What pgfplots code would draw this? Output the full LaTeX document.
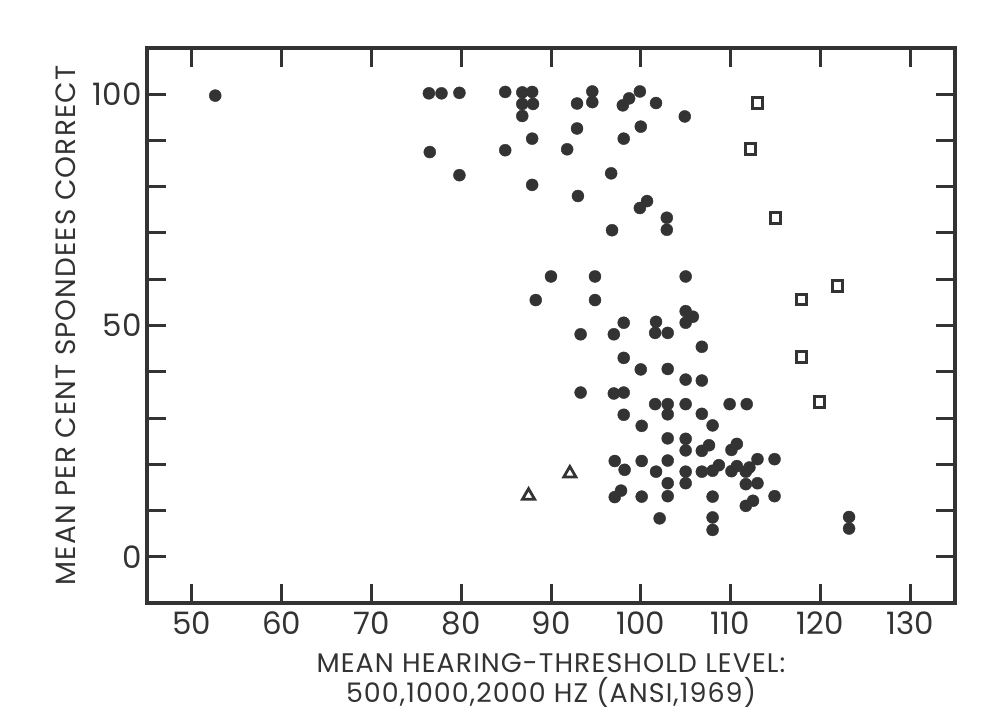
\documentclass[border=0pt]{standalone}
\usepackage{pgfplots}
\pgfplotsset{compat=1.18}
\usepackage{fontspec}
\setmainfont{Poppins}
\definecolor{ink}{gray}{0.2}
\begin{document}
\begin{tikzpicture}
\useasboundingbox (-147bp,-114bp) rectangle (836bp,603bp);
\begin{axis}[
 at={(0,0)}, anchor=south west,
 scale only axis, width=808bp, height=555bp,
 xmin=45, xmax=135, ymin=-10, ymax=110,
 xtick={50,60,...,130}, ytick={0,10,...,100},
 yticklabels={0,,,,,50,,,,,100},
 tick pos=both, tick align=inside, major tick length=19bp,
 every tick/.style={ink, line width=3bp},
 axis line style={ink, line width=3.5bp},
 /pgf/number format/assume math mode=true,
 /pgf/number format/1000 sep={},
 ticklabel style={font=\fontsize{31}{33}\selectfont, text=ink},
 xticklabel style={yshift=-5bp},
 yticklabel style={xshift=-2bp},
 xlabel={MEAN HEARING-THRESHOLD LEVEL:\\500,1000,2000 HZ (ANSI,1969)},
 xlabel style={align=center, font=\fontsize{27}{30}\selectfont\addfontfeature{LetterSpace=4}, text=ink, yshift=-12bp},
 ylabel={MEAN PER CENT SPONDEES CORRECT},
 ylabel style={font=\fontsize{28}{30}\selectfont\addfontfeature{LetterSpace=4}, text=ink, yshift=10bp},
 clip=false,
]
\addplot[only marks, mark=*, mark size=6bp, mark options={fill=ink, draw=ink}] coordinates {
(52.6,99.7) (76.4,100.2) (77.8,100.2) (79.8,100.3) (84.9,100.5) (86.8,100.4) (87.9,100.5)
(86.8,97.9) (88.0,97.9) (86.8,95.3) (94.6,100.6) (94.6,98.3) (92.9,98.0) (92.9,92.6)
(87.9,90.4) (76.5,87.5) (84.9,87.9) (91.8,88.1) (79.8,82.5) (87.9,80.4) (93.0,78.0)
(99.9,100.6) (98.7,99.1) (98.0,97.6) (101.7,98.1) (104.9,95.2) (100.0,93.0) (98.1,90.4)
(96.7,82.9) (100.7,76.9) (99.9,75.4) (102.9,73.3) (96.8,70.6) (102.9,70.7)
(90.0,60.6) (94.9,60.6) (105.0,60.6) (88.3,55.5) (94.9,55.5) (98.1,50.6) (101.7,50.8)
(105.0,53.1) (105.8,51.9) (105.0,50.6) (93.3,48.1) (97.0,48.1) (101.6,48.4) (103.0,48.4)
(106.8,45.4) (98.1,43.0) (100.0,40.5) (103.0,40.6) (105.0,38.3) (106.8,38.1)
(93.3,35.5) (97.0,35.3) (98.1,35.5) (101.6,33.0) (103.0,33.0) (105.0,33.0) (109.9,33.0) (111.8,33.0)
(98.1,30.7) (103.0,30.8) (106.8,30.9) (100.1,28.3) (108.0,28.4) (103.0,25.6) (105.0,25.5)
(107.6,24.1) (106.8,22.9) (110.7,24.4) (110.1,23.1) (105.0,23.0)
(97.1,20.7) (100.1,20.7) (103.0,20.8) (113.0,21.1) (114.9,21.1)
(98.2,18.8) (101.7,18.4) (108.7,19.8) (108.0,18.6) (106.8,18.4) (105.0,18.4)
(110.7,19.6) (110.1,18.5) (112.1,19.3) (111.7,18.4)
(103.0,15.9) (105.0,15.9) (111.7,15.7) (113.0,15.9)
(97.8,14.3) (97.1,12.9) (100.1,13.0) (103.0,13.1) (108.0,13.0) (114.9,13.1) (112.5,12.1) (111.7,11.0)
(102.1,8.3) (108.0,8.5) (108.0,5.8) (123.2,8.6) (123.2,6.1)
};
\addplot[only marks, mark=square, mark size=5.3bp, mark options={draw=ink, line width=3bp}] coordinates {
(113.0,98.1) (112.2,88.1) (115.0,73.2) (121.9,58.5) (117.9,55.6) (117.9,43.2) (119.9,33.4)
};
\addplot[only marks, mark=triangle, mark size=7bp, mark options={draw=ink, line width=2.8bp}] coordinates {
(92.1,18.0) (87.5,13.2)
};
\end{axis}
\end{tikzpicture}
\end{document}
